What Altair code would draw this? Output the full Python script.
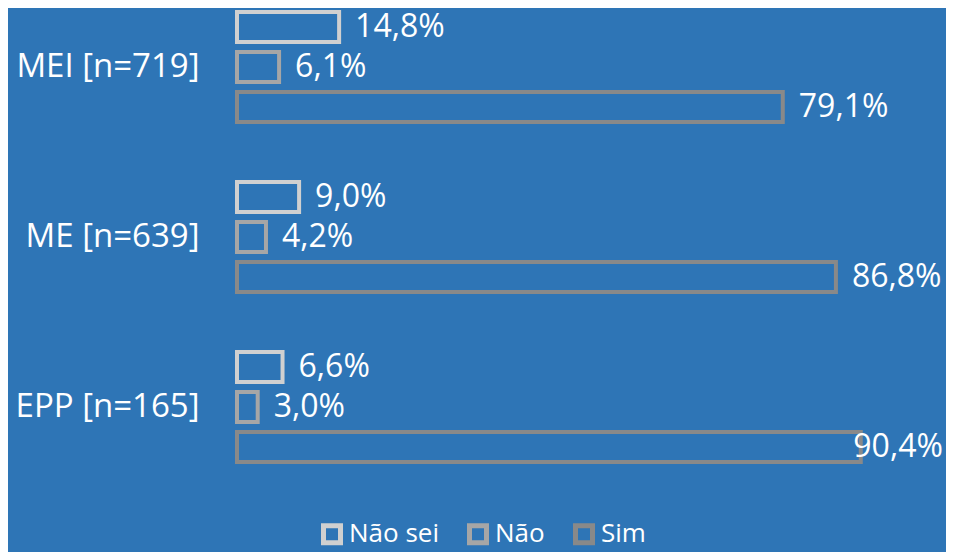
import altair as alt
import pandas as pd

categories = ["MEI [n=719]", "ME [n=639]", "EPP [n=165]"]
series = ["Não sei", "Não", "Sim"]
nao_sei = [14.8, 9.0, 6.6]
nao = [6.1, 4.2, 3.0]
sim = [79.1, 86.8, 90.4]
colors = ["#D0D0D0", "#A6A6A6", "#898989"]
BG = "#2E75B6"
FONT = "Open Sans"

rows = []
for i, c in enumerate(categories):
    for s, vals in zip(series, [nao_sei, nao, sim]):
        rows.append({"cat": c, "serie": s, "value": vals[i]})
df = pd.DataFrame(rows)

base = alt.Chart(df).encode(
    y=alt.Y(
        "cat:N",
        sort=categories,
        scale=alt.Scale(paddingInner=0.294, paddingOuter=0, range=[-1, 459]),
        axis=alt.Axis(
            title=None, domain=False, ticks=False, labelFontSize=33,
            labelColor="white", labelFont=FONT, labelPadding=38,
            labelLimit=400,
        ),
    ),
    yOffset=alt.YOffset(
        "serie:N", sort=series,
        scale=alt.Scale(paddingInner=0.25, paddingOuter=0.125),
    ),
)

bars = base.mark_bar(fill=BG, strokeWidth=4).encode(
    x=alt.X("value:Q", scale=alt.Scale(domain=[0, 100]), axis=None),
    stroke=alt.Stroke(
        "serie:N",
        sort=series,
        scale=alt.Scale(domain=series, range=colors),
        legend=alt.Legend(
            title=None, orient="none", direction="horizontal",
            legendX=82, legendY=513,
            symbolType="square", symbolSize=289, symbolStrokeWidth=5,
            symbolFillColor=BG, labelFontSize=26, labelFont=FONT,
            labelColor="white", labelOffset=4, columnPadding=20,
        ),
    ),
)

labels = base.mark_text(
    align="left", baseline="middle", dx=16, color="white",
    fontSize=32, font=FONT,
).transform_calculate(
    label="replace(format(datum.value, '.1f'), '.', ',') + '%'",
    lx="min(datum.value, 87.0)",
).encode(
    x=alt.X("lx:Q", axis=None),
    text="label:N",
)

chart = alt.layer(bars, labels).properties(
    width=690, height=460,
    autosize=alt.AutoSizeParams(type="none"),
    padding={"left": 229, "top": 0, "right": 19, "bottom": 84},
    background=BG,
).configure_view(stroke=None)

chart.save("out.html", embed_options={"renderer": "svg", "actions": False})
